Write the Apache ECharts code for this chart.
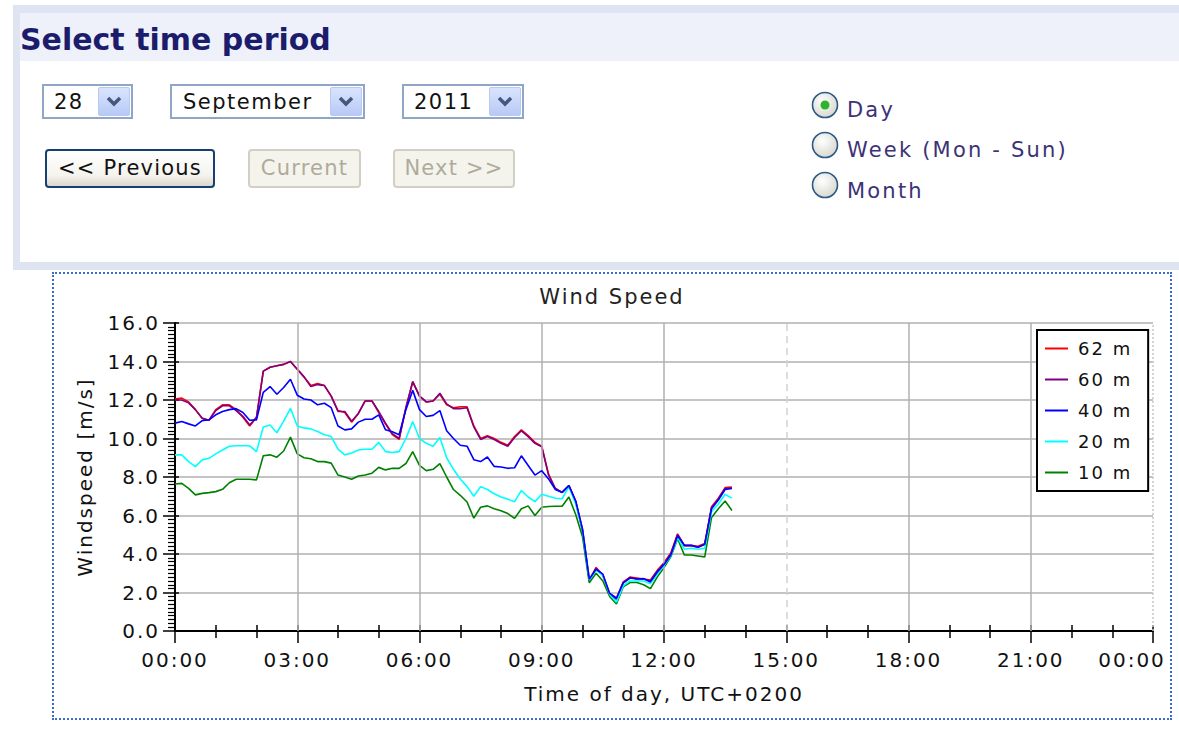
<!DOCTYPE html>
<html>
<head>
<meta charset="utf-8">
<title>Wind Speed</title>
<script src="https://cdn.jsdelivr.net/npm/echarts@6/dist/echarts.min.js"></script>
<style>
  html, body { margin: 0; padding: 0; background: #fff; }
  body { width: 1179px; height: 729px; position: relative; overflow: hidden;
         font-family: "DejaVu Sans", Verdana, sans-serif; }
  .abs { position: absolute; }
  #topline { left: 13px; top: 5px; width: 1166px; height: 8px; background: #dfe4f2; }
  #leftstrip { left: 13px; top: 5px; width: 7px; height: 265px; background: #dfe4f2; }
  #header { left: 20px; top: 13px; width: 1159px; height: 48px; background: #eef1f9; }
  #pageTitle { left: 20px; top: 25px; font-size: 30px; line-height: 30px; font-weight: bold;
               color: #1c1c6c; white-space: nowrap; }
  #bottomband { left: 13px; top: 262px; width: 1166px; height: 8px; background: #dfe4f2; }

  .sel { top: 84px; height: 35px; box-sizing: border-box; border: 2px solid #8fa6c6; background: #fff; }
  .sel .txt { position: absolute; left: 10px; top: 6px; font-size: 21px; line-height: 21px;
              letter-spacing: 1.5px; color: #111; white-space: nowrap; }
  .sel .arrow { position: absolute; right: 1px; top: 1px; width: 32px; height: 29px; box-sizing: border-box;
                border: 1px solid #b9c9ef; border-radius: 2px;
                background: linear-gradient(#d9e4fd, #b7c9f6); }

  .btn { top: 149px; height: 39px; box-sizing: border-box; border-radius: 4px;
         display: flex; align-items: center; justify-content: center;
         font-size: 21px; line-height: 21px; letter-spacing: 1.2px; white-space: nowrap; }
  .btn.on { border: 2px solid #163f73; color: #111;
            background: linear-gradient(#ffffff, #f4f3ee 70%, #dcd7cb); }
  .btn.off { border: 2px solid #d2d0c4; color: #aeab9c; background: #f5f4ec; }

  .radio { left: 811px; width: 28px; height: 28px; }
  .rlabel { left: 847px; font-size: 21px; line-height: 21px; letter-spacing: 2.2px; color: #3d3276;
            white-space: nowrap; }

  #chartbox { left: 52px; top: 272px; width: 1120px; height: 448px; box-sizing: border-box;
              border: 2px dotted #3a6bc6; }
  #chart { position: absolute; left: 0; top: 0; width: 1116px; height: 444px; }
  #chart text { letter-spacing: 2px; }
</style>
</head>
<body>
<div class="abs" id="topline"></div>
<div class="abs" id="header"></div>
<div class="abs" id="leftstrip"></div>
<div class="abs" id="pageTitle">Select time period</div>

<div class="abs sel" style="left:42px; width:91px;">
  <span class="txt">28</span>
  <div class="arrow"><svg width="30" height="27"><polyline points="9,10 15,16 21,10" fill="none" stroke="#44577e" stroke-width="3.5"/></svg></div>
</div>
<div class="abs sel" style="left:170px; width:195px;">
  <span class="txt" style="left:11px;">September</span>
  <div class="arrow"><svg width="30" height="27"><polyline points="9,10 15,16 21,10" fill="none" stroke="#44577e" stroke-width="3.5"/></svg></div>
</div>
<div class="abs sel" style="left:402px; width:122px;">
  <span class="txt">2011</span>
  <div class="arrow"><svg width="30" height="27"><polyline points="9,10 15,16 21,10" fill="none" stroke="#44577e" stroke-width="3.5"/></svg></div>
</div>

<div class="abs btn on" style="left:45px; width:170px;">&lt;&lt; Previous</div>
<div class="abs btn off" style="left:248px; width:113px;">Current</div>
<div class="abs btn off" style="left:393px; width:122px;">Next &gt;&gt;</div>

<svg class="abs radio" style="top:91px;" viewBox="0 0 28 28">
  <defs><radialGradient id="rg" cx="40%" cy="35%" r="70%"><stop offset="0" stop-color="#ffffff"/><stop offset="1" stop-color="#d6d5cc"/></radialGradient></defs>
  <circle cx="14" cy="14" r="12.5" fill="url(#rg)" stroke="#2b5a86" stroke-width="1.6"/>
  <circle cx="14" cy="14" r="4.5" fill="#2cb52c"/>
</svg>
<svg class="abs radio" style="top:131px;" viewBox="0 0 28 28">
  <circle cx="14" cy="14" r="12.5" fill="url(#rg)" stroke="#2b5a86" stroke-width="1.6"/>
</svg>
<svg class="abs radio" style="top:171px;" viewBox="0 0 28 28">
  <circle cx="14" cy="14" r="12.5" fill="url(#rg)" stroke="#2b5a86" stroke-width="1.6"/>
</svg>
<div class="abs rlabel" style="top:100px;">Day</div>
<div class="abs rlabel" style="top:140px;">Week (Mon - Sun)</div>
<div class="abs rlabel" style="top:181px;">Month</div>

<div class="abs" id="bottomband"></div>

<div class="abs" id="chartbox"><div id="chart"></div></div>

<script>
// sample times, 10 minute steps
const times = [
  '00:00','00:10','00:20','00:30','00:40','00:50',
  '01:00','01:10','01:20','01:30','01:40','01:50',
  '02:00','02:10','02:20','02:30','02:40','02:50',
  '03:00','03:10','03:20','03:30','03:40','03:50',
  '04:00','04:10','04:20','04:30','04:40','04:50',
  '05:00','05:10','05:20','05:30','05:40','05:50',
  '06:00','06:10','06:20','06:30','06:40','06:50',
  '07:00','07:10','07:20','07:30','07:40','07:50',
  '08:00','08:10','08:20','08:30','08:40','08:50',
  '09:00','09:10','09:20','09:30','09:40','09:50',
  '10:00','10:10','10:20','10:30','10:40','10:50',
  '11:00','11:10','11:20','11:30','11:40','11:50',
  '12:00','12:10','12:20','12:30','12:40','12:50',
  '13:00','13:10','13:20','13:30','13:40'
];

// wind speed [m/s] per height
const speed62 = [
  12.05,12.1,11.9,11.5,11.05,10.95,
  11.5,11.75,11.75,11.5,11.1,10.65,
  11.1,13.5,13.7,13.78,13.85,14.0,
  13.6,13.2,12.75,12.85,12.75,12.2,
  11.45,11.35,10.85,11.3,11.95,11.95,
  11.35,10.75,10.2,9.95,11.6,12.95,
  12.2,11.9,11.95,12.3,11.75,11.6,
  11.65,11.65,10.65,10.0,10.15,10.0,
  9.8,9.65,10.1,10.45,10.15,9.8,
  9.6,8.15,7.4,7.2,7.55,6.75,
  5.25,2.65,3.3,2.9,1.95,1.7,
  2.55,2.8,2.75,2.7,2.65,3.15,
  3.55,4.05,5.05,4.45,4.45,4.4,
  4.55,6.45,6.9,7.45,7.48
];
const speed60 = [
  12.0,12.0,11.85,11.5,11.05,10.95,
  11.45,11.7,11.7,11.45,11.15,10.7,
  11.1,13.5,13.7,13.78,13.85,14.0,
  13.6,13.2,12.7,12.8,12.75,12.2,
  11.4,11.4,10.9,11.3,11.95,11.95,
  11.4,10.8,10.25,10.0,11.6,12.95,
  12.2,11.9,11.95,12.35,11.8,11.55,
  11.55,11.6,10.6,9.95,10.1,9.95,
  9.75,9.6,10.05,10.4,10.1,9.75,
  9.57,8.1,7.4,7.2,7.55,6.7,
  5.2,2.6,3.25,2.9,1.9,1.65,
  2.5,2.78,2.7,2.7,2.6,3.1,
  3.5,4.0,5.0,4.43,4.43,4.35,
  4.5,6.4,6.85,7.4,7.43
];
const speed40 = [
  10.8,10.88,10.76,10.65,10.93,10.97,
  11.23,11.4,11.5,11.55,11.35,10.95,
  10.97,12.4,12.7,12.3,12.65,13.08,
  12.25,12.05,12.0,11.75,11.83,11.6,
  10.65,10.45,10.5,10.85,11.0,11.0,
  11.23,10.45,10.35,10.2,11.5,12.5,
  11.5,11.14,11.2,11.45,10.4,10.0,
  9.65,9.6,8.9,8.8,9.04,8.55,
  8.52,8.45,8.48,9.1,8.6,8.1,
  8.33,7.9,7.35,7.2,7.55,6.75,
  5.3,2.7,3.2,2.95,1.95,1.7,
  2.5,2.75,2.7,2.72,2.55,3.05,
  3.45,3.95,4.95,4.45,4.45,4.35,
  4.5,6.35,6.8,7.35,7.4
];
const speed20 = [
  9.15,9.15,8.8,8.54,8.89,8.97,
  9.2,9.4,9.6,9.62,9.62,9.62,
  9.32,10.6,10.7,10.3,10.9,11.57,
  10.65,10.55,10.5,10.36,10.2,10.1,
  9.45,9.15,9.25,9.4,9.44,9.44,
  9.8,9.32,9.27,9.32,10.0,10.88,
  10.0,9.75,9.6,10.05,9.0,8.4,
  7.9,7.5,7.0,7.5,7.35,7.13,
  6.96,6.85,6.72,7.3,6.96,6.72,
  7.1,7.0,6.9,6.87,7.5,6.6,
  5.25,2.65,3.15,2.9,1.9,1.5,
  2.35,2.6,2.6,2.6,2.45,2.95,
  3.4,3.9,4.85,4.25,4.3,4.25,
  4.3,6.2,6.6,7.1,6.9
];
const speed10 = [
  7.64,7.67,7.41,7.07,7.15,7.19,
  7.24,7.36,7.7,7.88,7.88,7.88,
  7.85,9.1,9.15,9.03,9.35,10.07,
  9.2,9.0,8.95,8.8,8.8,8.72,
  8.1,8.0,7.88,8.05,8.1,8.2,
  8.5,8.37,8.45,8.45,8.7,9.32,
  8.6,8.33,8.4,8.7,8.0,7.35,
  7.05,6.7,5.86,6.43,6.5,6.35,
  6.25,6.1,5.85,6.35,6.5,6.0,
  6.43,6.47,6.48,6.48,6.96,6.05,
  4.9,2.5,3.0,2.6,1.8,1.4,
  2.3,2.52,2.52,2.4,2.2,2.8,
  3.3,3.85,4.8,3.95,3.95,3.9,
  3.85,5.9,6.35,6.75,6.26
];

const heights = ['62 m', '60 m', '40 m', '20 m', '10 m'];
const colors = ['#ff0000', '#800080', '#0000ff', '#00ffff', '#008000'];
const gridHours = [3, 6, 9, 12, 18, 21];   // solid vertical grid lines
const nowHour = 15;                          // dashed "now" line
const dayEnd = 24;

function toHours(t) {
  return parseInt(t.slice(0, 2), 10) + parseInt(t.slice(3), 10) / 60;
}
function pairs(values) {
  return times.map((t, i) => [toHours(t), values[i]]);
}
function hourLabel(v) {
  const h = v % 24;
  const txt = (h < 10 ? '0' : '') + h + ':00';
  // last label is pulled back inside the box, like the original
  return v === dayEnd ? '{end|' + txt + '}' : txt;
}

const FONT = 'DejaVu Sans';
const chart = echarts.init(document.getElementById('chart'), null, { renderer: 'svg' });

const seriesValues = [speed62, speed60, speed40, speed20, speed10];
const zOrder = [2, 3, 6, 5, 4];

const series = heights.map((name, i) => ({
  name: name,
  type: 'line',
  data: pairs(seriesValues[i]),
  showSymbol: false,
  symbol: 'none',
  z: zOrder[i],
  lineStyle: { color: colors[i], width: 1.6 },
  itemStyle: { color: colors[i] },
  emphasis: { disabled: true }
}));

// vertical grid lines live on the first series
series[0].markLine = {
  silent: true,
  symbol: ['none', 'none'],
  label: { show: false },
  emphasis: { disabled: true },
  lineStyle: { color: '#b0b0b0', width: 1.5, type: 'solid' },
  data: gridHours.map(h => ({ xAxis: h })).concat([
    { xAxis: nowHour, lineStyle: { color: '#d2d2d2', width: 1.5, type: [7, 5] } },
    { xAxis: dayEnd, lineStyle: { color: '#c8c8c8', width: 1.5, type: [2, 2] } }
  ])
};

chart.setOption({
  animation: false,
  textStyle: { fontFamily: FONT, color: '#111' },
  title: {
    text: 'Wind Speed',
    left: 'center',
    top: 7,
    textStyle: { fontFamily: FONT, fontSize: 21, fontWeight: 'normal', color: '#222' }
  },
  legend: {
    data: heights,
    orient: 'vertical',
    left: 983,
    top: 56,
    padding: [3, 24, 3, 8],
    itemGap: 0,
    itemWidth: 23,
    itemHeight: 2,
    icon: 'rect',
    backgroundColor: '#fff',
    borderColor: '#000',
    borderWidth: 2,
    borderRadius: 0,
    selectedMode: false,
    textStyle: { fontFamily: FONT, fontSize: 18, color: '#111', lineHeight: 31, padding: [0, 0, 0, 5] }
  },
  grid: { left: 121, right: 17, top: 49, bottom: 87, outerBoundsMode: 'none' },
  xAxis: [{
    type: 'value',
    min: 0,
    max: 24,
    interval: 3,
    position: 'bottom',
    name: 'Time of day, UTC+0200',
    nameLocation: 'middle',
    nameGap: 53,
    nameTextStyle: { fontFamily: FONT, fontSize: 20, color: '#111' },
    axisLine: { show: true, onZero: false, lineStyle: { color: '#000', width: 2 } },
    axisTick: { show: true, length: 12, lineStyle: { color: '#000', width: 1.5 } },
    minorTick: { show: true, splitNumber: 3, length: 7, lineStyle: { color: '#000', width: 1.5 } },
    axisLabel: {
      fontFamily: FONT, fontSize: 20, color: '#111', margin: 19,
      formatter: hourLabel, showMaxLabel: true, hideOverlap: false,
      rich: { end: { fontFamily: FONT, fontSize: 20, color: '#111', padding: [0, 42, 0, 0] } }
    },
    splitLine: { show: false }
  }, {
    type: 'value',
    min: 0,
    max: 24,
    interval: 3,
    position: 'bottom',
    axisLine: { show: false, onZero: false },
    axisTick: { show: true, inside: true, length: 6, lineStyle: { color: '#000', width: 1.5 } },
    minorTick: { show: true, splitNumber: 3, length: 6, lineStyle: { color: '#000', width: 1.5 } },
    axisLabel: { show: false },
    splitLine: { show: false }
  }],
  yAxis: [{
    type: 'value',
    min: 0,
    max: 16,
    interval: 2,
    position: 'left',
    name: 'Windspeed [m/s]',
    nameLocation: 'middle',
    nameGap: 80,
    nameTextStyle: { fontFamily: FONT, fontSize: 20, color: '#111' },
    axisLine: { show: true, onZero: false, lineStyle: { color: '#000', width: 2 } },
    axisTick: { show: true, length: 12, lineStyle: { color: '#000', width: 1.5 } },
    minorTick: { show: true, splitNumber: 10, length: 7, lineStyle: { color: '#000', width: 1.2 } },
    axisLabel: { fontFamily: FONT, fontSize: 20, color: '#111', margin: 15, formatter: v => v.toFixed(1) },
    splitLine: { show: true, lineStyle: { color: '#b0b0b0', width: 1.5 } }
  }, {
    type: 'value',
    min: 0,
    max: 16,
    interval: 2,
    position: 'left',
    axisLine: { show: false, onZero: false },
    axisTick: { show: true, inside: true, length: 4, lineStyle: { color: '#000', width: 1.5 } },
    axisLabel: { show: false },
    splitLine: { show: false }
  }],
  series: series
});
</script>
</body>
</html>
